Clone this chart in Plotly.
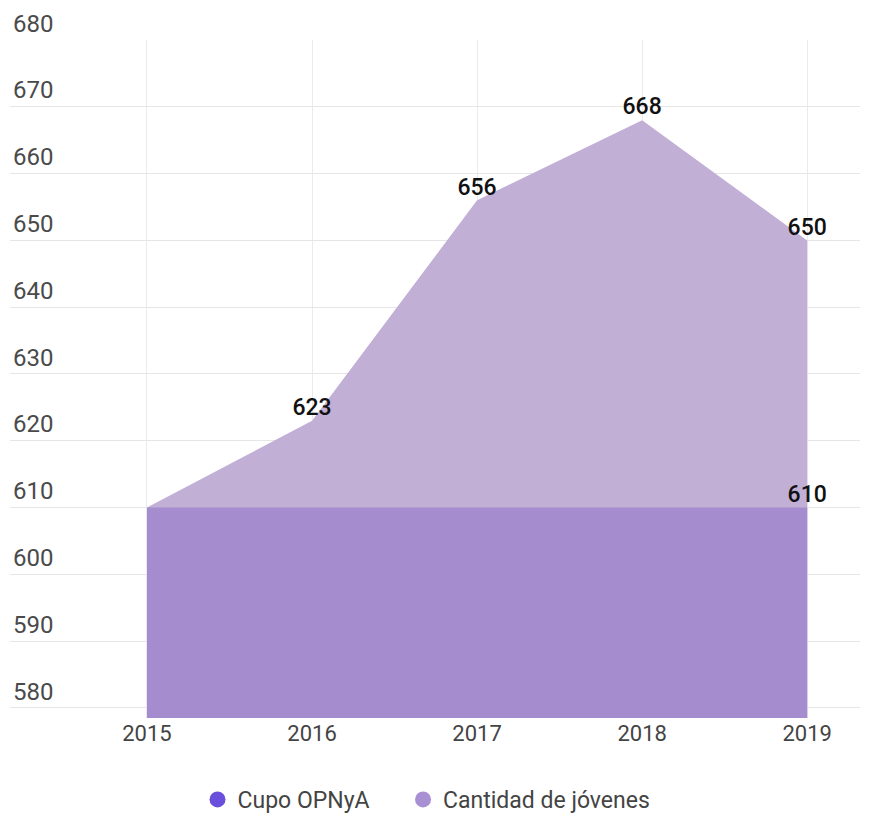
import plotly.graph_objects as go

years = [2015, 2016, 2017, 2018, 2019]
cupo = [610, 610, 610, 610, 610]
jovenes = [610, 623, 656, 668, 650]
jov_labels = ["", "623", "656", "668", "650"]
cupo_labels = ["", "", "", "", "610"]
y_ticks = [580, 590, 600, 610, 620, 630, 640, 650, 660, 670, 680]

lab_font = dict(family="Roboto", size=23, color="#111111", weight=500)

fig = go.Figure()
fig.add_trace(go.Scatter(
    x=years, y=jovenes, mode="lines+text", fill="tozeroy",
    line=dict(width=0, color="#c1afd6"), fillcolor="#c1afd6",
    text=jov_labels, textposition="top center", textfont=lab_font,
    showlegend=False, hoverinfo="skip"))
fig.add_trace(go.Scatter(
    x=years, y=cupo, mode="lines+text", fill="tozeroy",
    line=dict(width=0, color="#a58ccf"), fillcolor="#a58ccf",
    text=cupo_labels, textposition="top center", textfont=lab_font,
    showlegend=False, hoverinfo="skip"))
fig.add_trace(go.Scatter(x=[None], y=[None], mode="markers",
                         name="Cupo OPNyA" + "\u00a0" * 5,
                         marker=dict(size=22, color="#6a4fdc")))
fig.add_trace(go.Scatter(x=[None], y=[None], mode="markers", name="Cantidad de jóvenes",
                         marker=dict(size=22, color="#a98fd3")))

fig.update_layout(
    width=880, height=821,
    margin=dict(l=10, r=20, t=40, b=103, autoexpand=False),
    paper_bgcolor="white", plot_bgcolor="white",
    font=dict(family="Roboto", color="#555555", size=20),
    legend=dict(orientation="h", x=0.49, xanchor="center", y=21, yref="container",
                yanchor="middle",
                font=dict(size=23, color="#444444"), itemsizing="trace"),
    xaxis=dict(range=[2015 - 0.83, 2019 + 0.32], tickvals=years, automargin=False,
               ticktext=[str(y) for y in years], showgrid=True, gridcolor="#ebebeb",
               zeroline=False, showline=False, ticks="",
               tickfont=dict(size=22, color="#444444")),
    yaxis=dict(range=[578.5, 680], tickvals=y_ticks, showgrid=True, gridcolor="#e6e6e6",
               zeroline=False, showline=False, ticklabelposition="inside top",
               ticklabeloverflow="allow", automargin=False,
               tickfont=dict(size=24, color="#4a4a4a")),
)
fig.write_html("out.html")
